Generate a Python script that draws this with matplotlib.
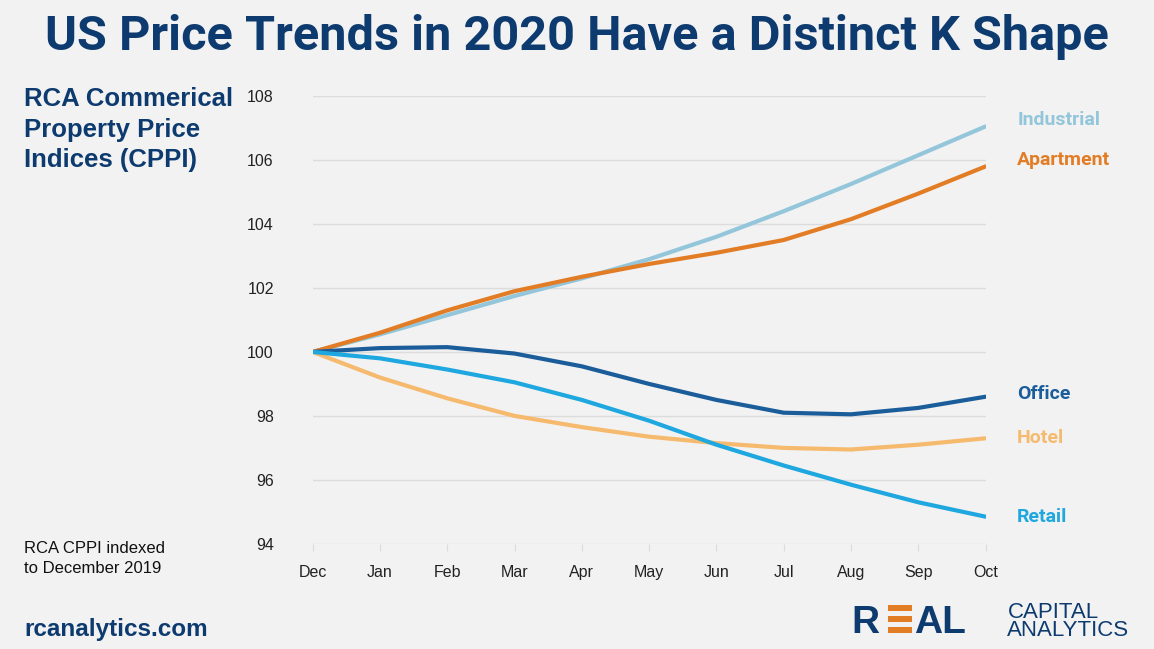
import matplotlib.pyplot as plt
from matplotlib.patches import Rectangle
import numpy as np

months = ['Dec', 'Jan', 'Feb', 'Mar', 'Apr', 'May', 'Jun', 'Jul', 'Aug', 'Sep', 'Oct']

industrial = [100, 100.55, 101.15, 101.75, 102.3, 102.9, 103.6, 104.4, 105.25, 106.15, 107.05]
apartment = [100, 100.6, 101.3, 101.9, 102.35, 102.75, 103.1, 103.5, 104.15, 104.95, 105.8]
office = [100, 100.12, 100.15, 99.95, 99.55, 99.0, 98.5, 98.1, 98.05, 98.25, 98.6]
hotel = [100, 99.2, 98.55, 98.0, 97.65, 97.35, 97.15, 97.0, 96.95, 97.1, 97.3]
retail = [100, 99.8, 99.45, 99.05, 98.5, 97.85, 97.1, 96.45, 95.85, 95.3, 94.85]

series = [
    ('Industrial', industrial, '#93c6da'),
    ('Apartment', apartment, '#e27d26'),
    ('Office', office, '#1b5d9a'),
    ('Hotel', hotel, '#f6ba6e'),
    ('Retail', retail, '#1fa7df'),
]
# label y positions (data units), nudged so they don't overlap
label_y = {'Industrial': 107.25, 'Apartment': 106.0, 'Office': 98.7, 'Hotel': 97.3, 'Retail': 94.85}

navy = '#0e3b6f'
orange = '#e27d26'
bg = '#f2f2f2'

fig = plt.figure(figsize=(11.54, 6.49), dpi=100, facecolor=bg)
ax = fig.add_axes([0.271, 0.162, 0.583, 0.69])
ax.set_facecolor(bg)

x = np.arange(len(months))
for name, vals, color in series:
    ax.plot(x, vals, color=color, lw=3, solid_capstyle='round', zorder=3)
    ax.text(10.47, label_y[name], name, color=color, fontsize=14, fontweight='bold',
            va='center', ha='left', family='Roboto')

ax.set_xlim(0, 10)
ax.set_ylim(94, 108)
ax.set_yticks(np.arange(94, 109, 2))
ax.set_xticks(x, labels=months)
ax.grid(axis='y', color='#dcdcdc', lw=1)
for s in ax.spines.values():
    s.set_visible(False)
ax.tick_params(axis='y', length=0, pad=28, labelsize=11.5, labelcolor='#222222')
ax.tick_params(axis='x', length=5, color='#dcdcdc', pad=10, labelsize=11.5, labelcolor='#222222')
for lab in ax.get_xticklabels() + ax.get_yticklabels():
    lab.set_family('Liberation Sans')

fig.text(0.5, 0.943, 'US Price Trends in 2020 Have a Distinct K Shape', ha='center', va='center',
         fontsize=35, fontweight='bold', color=navy, family='Roboto')
fig.text(0.021, 0.866, 'RCA Commerical\nProperty Price\nIndices (CPPI)', ha='left', va='top',
         fontsize=18.5, fontweight='bold', color=navy, linespacing=1.35, family='Liberation Sans')
fig.text(0.021, 0.14, 'RCA CPPI indexed\nto December 2019', ha='left', va='center',
         fontsize=12, color='#111111', family='Liberation Sans', linespacing=1.4)
fig.text(0.021, 0.03, 'rcanalytics.com', ha='left', va='center',
         fontsize=17.5, fontweight='bold', color=navy, family='Liberation Sans')

# logo
fig.text(0.738, 0.04, 'R', ha='left', va='center', fontsize=28, fontweight='bold', color=navy,
         family='Liberation Sans')
for yb in [0.063, 0.046, 0.029]:
    fig.patches.append(Rectangle((0.7695, yb - 0.005), 0.021, 0.01, transform=fig.transFigure,
                                 facecolor=orange, edgecolor='none'))
fig.text(0.792, 0.04, 'AL', ha='left', va='center', fontsize=28, fontweight='bold', color=navy,
         family='Liberation Sans')
fig.text(0.873, 0.042, 'CAPITAL\nANALYTICS', ha='left', va='center', fontsize=16, color=navy,
         linespacing=0.8, family='Liberation Sans')

fig.savefig('out.png', dpi=100, facecolor=bg)
